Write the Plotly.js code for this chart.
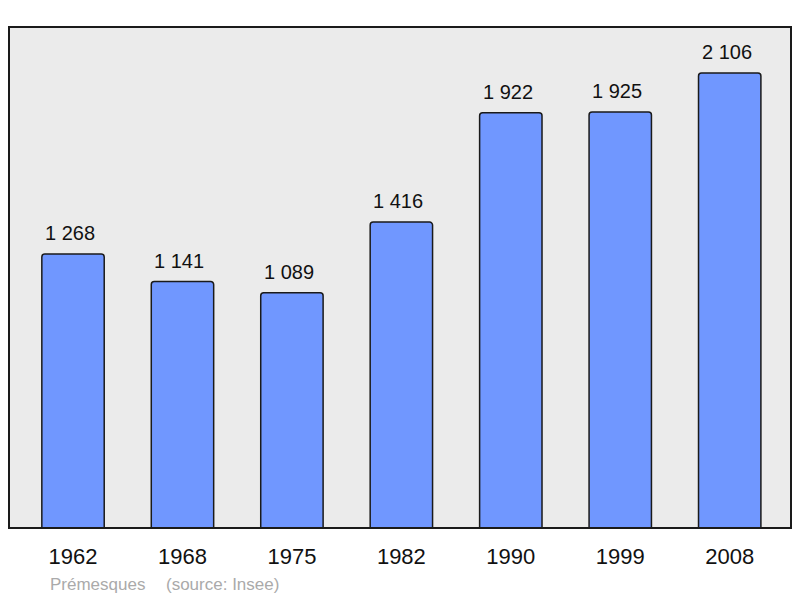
<!DOCTYPE html>
<html><head><meta charset="utf-8">
<script src="https://cdn.plot.ly/plotly-3.0.1.min.js"></script>
<style>html,body{margin:0;padding:0;background:#fff}#c{width:800px;height:598px}</style>
</head><body><div id="c"></div>
<script>
const years = ["1962","1968","1975","1982","1990","1999","2008"];
const population = [1268, 1141, 1089, 1416, 1922, 1925, 2106];
const commune = "Prémesques";
const sourceText = "(source: Insee)";

function fmt(v){ return String(v).replace(/\B(?=(\d{3})+(?!\d))/g, " "); }

const trace = {
  type: "bar", x: years, y: population,
  width: 0.57,
  marker: {color: "#7097ff", line: {color: "#1a1a1a", width: 1.5}, cornerradius: 3},
  hoverinfo: "none"
};
const annotations = years.map((y,i)=>({
  x: i, y: population[i], text: fmt(population[i]), showarrow: false, xshift: -3,
  yanchor: "bottom", yshift: 8, font: {family: "Liberation Sans, Arial, sans-serif", size: 20, color: "#111"}
}));
annotations.push({xref:"paper", yref:"paper", x: (48-9)/782, y: -0.112, xanchor:"left", yanchor:"middle",
  showarrow:false, text: commune, font:{family:"Liberation Sans, Arial, sans-serif", size:17, color:"#aaaaaa"}});
annotations.push({xref:"paper", yref:"paper", x: (164-9)/782, y: -0.112, xanchor:"left", yanchor:"middle",
  showarrow:false, text: sourceText, font:{family:"Liberation Sans, Arial, sans-serif", size:17, color:"#aaaaaa"}});

const layout = {
  width: 800, height: 598,
  margin: {l: 9, r: 9, t: 27, b: 70},
  paper_bgcolor: "#ffffff", plot_bgcolor: "#ebebeb",
  showlegend: false,
  xaxis: {type: "category", range: [-0.585, 6.56], showgrid: false, zeroline: false, showline: false,
    ticks: "", tickfont: {family: "Liberation Sans, Arial, sans-serif", size: 22, color: "#111"}, ticklabelstandoff: 13},
  yaxis: {range: [0, 2319], showgrid: false, zeroline: false, showticklabels: false, ticks: "", showline: false},
  shapes: [{type: "rect", xref: "paper", yref: "paper", x0: 0, x1: 1, y0: 0, y1: 1,
    line: {color: "#1a1a1a", width: 2}, fillcolor: "rgba(0,0,0,0)"}],
  annotations: annotations
};
Plotly.newPlot("c", [trace], layout, {staticPlot: true, displayModeBar: false});
</script></body></html>
